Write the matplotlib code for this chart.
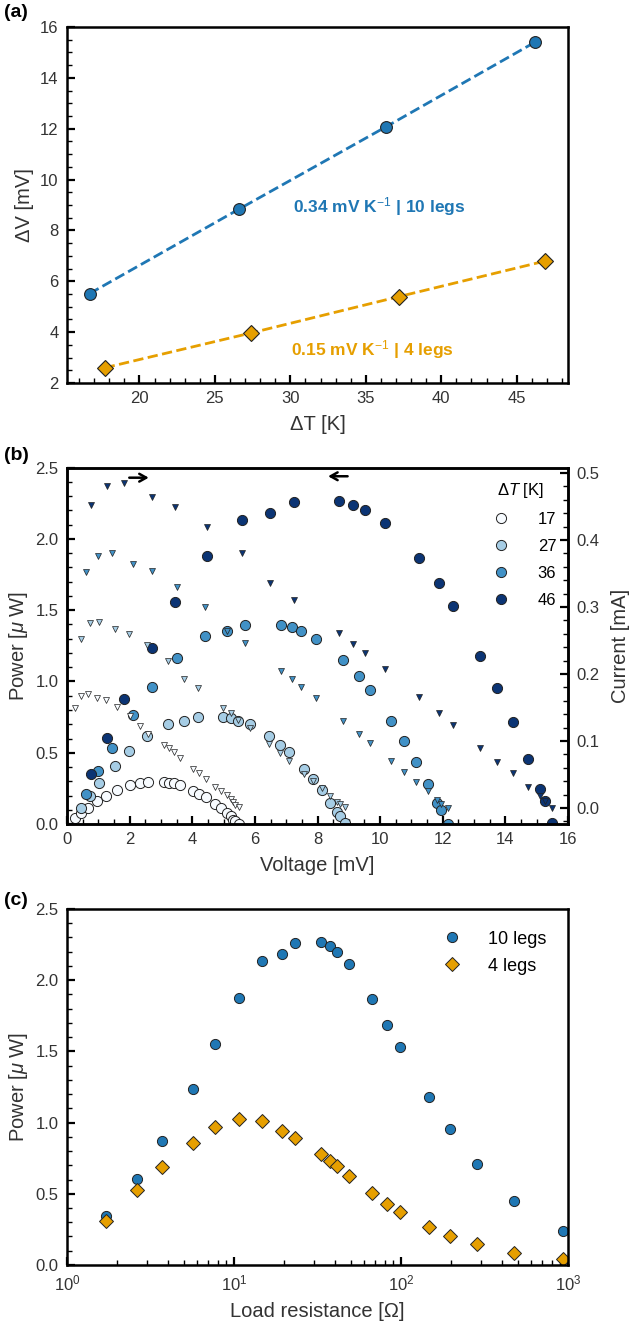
import matplotlib
matplotlib.use('Agg')
import matplotlib.pyplot as plt
from matplotlib.ticker import MultipleLocator

plt.rcParams['font.family'] = ['Liberation Sans', 'DejaVu Sans']
plt.rcParams['mathtext.fontset'] = 'custom'
plt.rcParams['mathtext.rm'] = 'Liberation Sans'
plt.rcParams['mathtext.it'] = 'Liberation Sans:italic'
plt.rcParams['mathtext.bf'] = 'Liberation Sans:bold'

# ---- panel (a): open-circuit voltage vs temperature difference
dT_10 = [16.7, 26.6, 36.35, 46.2]
dV_10 = [5.52, 8.84, 12.08, 15.4]
dT_4 = [17.7, 27.4, 37.2, 46.9]
dV_4 = [2.6, 3.97, 5.4, 6.8]

# ---- panel (b): power (circles, left) and current (triangles, right) vs voltage
V17 = [0.26, 0.45, 0.66, 0.95, 1.24, 1.61, 2.01, 2.33, 2.60, 3.10, 3.26, 3.43,
       3.61, 4.04, 4.23, 4.44, 4.73, 4.92, 5.10, 5.23, 5.31, 5.37, 5.50]
P17 = [0.040, 0.075, 0.112, 0.163, 0.194, 0.241, 0.276, 0.287, 0.294, 0.292, 0.287, 0.287,
       0.276, 0.234, 0.210, 0.187, 0.140, 0.112, 0.077, 0.053, 0.030, 0.018, 0.003]
I17 = [0.150, 0.168, 0.171, 0.165, 0.162, 0.151, 0.138, 0.122, 0.111, 0.094, 0.089, 0.083,
       0.074, 0.059, 0.052, 0.044, 0.032, 0.026, 0.020, 0.014, 0.009, 0.005, 0.001]

V27 = [0.44, 0.73, 1.03, 1.53, 1.98, 2.57, 3.22, 3.74, 4.18, 4.99, 5.23, 5.47,
       5.85, 6.45, 6.80, 7.08, 7.58, 7.87, 8.15, 8.40, 8.62, 8.72, 8.88]
P27 = [0.112, 0.200, 0.290, 0.409, 0.514, 0.621, 0.705, 0.722, 0.750, 0.750, 0.743, 0.724,
       0.703, 0.619, 0.556, 0.505, 0.386, 0.316, 0.241, 0.149, 0.081, 0.053, 0.007]
I27 = [0.253, 0.276, 0.278, 0.267, 0.260, 0.243, 0.219, 0.193, 0.179, 0.150, 0.142, 0.132,
       0.120, 0.096, 0.082, 0.071, 0.051, 0.040, 0.030, 0.018, 0.009, 0.006, 0.001]

V36 = [0.60, 0.98, 1.43, 2.10, 2.71, 3.52, 4.42, 5.10, 5.69, 6.83, 7.18, 7.48,
       7.95, 8.81, 9.31, 9.67, 10.36, 10.77, 11.15, 11.54, 11.81, 11.93, 12.16]
P36 = [0.212, 0.369, 0.535, 0.766, 0.961, 1.164, 1.320, 1.351, 1.393, 1.398, 1.379, 1.356,
       1.300, 1.150, 1.040, 0.942, 0.724, 0.586, 0.437, 0.280, 0.151, 0.100, 0.002]
I36 = [0.353, 0.376, 0.380, 0.364, 0.354, 0.330, 0.300, 0.265, 0.246, 0.205, 0.192, 0.181,
       0.164, 0.130, 0.111, 0.097, 0.070, 0.054, 0.039, 0.025, 0.012, 0.006, 0.000]

V46 = [0.77, 1.27, 1.81, 2.71, 3.44, 4.47, 5.60, 6.49, 7.24, 8.69, 9.12, 9.53,
       10.15, 11.24, 11.88, 12.33, 13.20, 13.74, 14.23, 14.72, 15.09, 15.25, 15.50]
P46 = [0.351, 0.607, 0.877, 1.238, 1.557, 1.881, 2.134, 2.185, 2.258, 2.267, 2.235, 2.202,
       2.113, 1.868, 1.690, 1.531, 1.180, 0.954, 0.713, 0.456, 0.245, 0.163, 0.007]
I46 = [0.452, 0.481, 0.485, 0.464, 0.450, 0.419, 0.381, 0.336, 0.311, 0.261, 0.245, 0.232,
       0.208, 0.166, 0.142, 0.124, 0.089, 0.069, 0.052, 0.032, 0.018, 0.011, 0.000]

# ---- panel (c): power vs load resistance
R_load = [1.72, 2.62, 3.72, 5.72, 7.68, 10.67, 14.7, 19.3, 23.3, 33.3, 37.4, 41.1,
          48.6, 67.5, 83.0, 99.1, 148, 197, 286, 474, 936]
P_10legs = [0.346, 0.602, 0.871, 1.236, 1.552, 1.877, 2.135, 2.184, 2.259, 2.266, 2.238, 2.200,
            2.111, 1.866, 1.686, 1.529, 1.180, 0.953, 0.709, 0.451, 0.239]
P_4legs = [0.309, 0.524, 0.690, 0.857, 0.969, 1.023, 1.014, 0.941, 0.894, 0.777, 0.730, 0.693,
           0.627, 0.503, 0.428, 0.375, 0.269, 0.206, 0.147, 0.087, 0.044]

blue = '#1f77b4'
orange = '#e69f00'
txt = '#333333'
dT_colors = ['#f7fbff', '#a6cde5', '#4191c6', '#0b3474']


def style_axes(ax):
    for s in ax.spines.values():
        s.set_linewidth(1.8)
    ax.tick_params(which='major', direction='in', length=6, width=1.6,
                   labelsize=12, labelcolor=txt, pad=6)
    ax.tick_params(which='minor', direction='in', length=3.5, width=1.0)


fig = plt.figure(figsize=(6.35, 13.31), dpi=100)

# (a)
ax = fig.add_axes([0.1055, 0.7122, 0.789, 0.2675])
ax.plot(dT_10, dV_10, '--', color=blue, lw=2, zorder=1)
ax.plot(dT_10, dV_10, 'o', color=blue, mec='#222222', mew=0.8, ms=8.5, ls='none', zorder=2)
ax.plot(dT_4, dV_4, '--', color=orange, lw=2, zorder=1)
ax.plot(dT_4, dV_4, 'D', color=orange, mec='#222222', mew=0.8, ms=8.5, ls='none', zorder=2)
ax.text(35.9, 8.93, '0.34 mV K$^{-1}$ | 10 legs', color=blue, fontweight='bold',
        fontsize=12.5, ha='center', va='center')
ax.text(35.4, 3.33, '0.15 mV K$^{-1}$ | 4 legs', color=orange, fontweight='bold',
        fontsize=12.5, ha='center', va='center')
ax.set_xlim(15.2, 48.4)
ax.set_ylim(2, 16)
ax.xaxis.set_major_locator(MultipleLocator(5))
ax.xaxis.set_minor_locator(MultipleLocator(1))
ax.yaxis.set_major_locator(MultipleLocator(2))
ax.yaxis.set_minor_locator(MultipleLocator(0.5))
style_axes(ax)
ax.set_xlabel('ΔT [K]', fontsize=14.5, color=txt, labelpad=6)
ax.set_ylabel('ΔV [mV]', fontsize=14.5, color=txt)
fig.text(0.006, 0.9905, '(a)', fontsize=14, fontweight='bold', va='center')

# (b)
ax = fig.add_axes([0.1055, 0.3809, 0.789, 0.2677])
ax2 = ax.twinx()
sets = [(V17, P17, I17, '17'), (V27, P27, I27, '27'), (V36, P36, I36, '36'), (V46, P46, I46, '46')]
for (v, p, i, lab), c in zip(sets, dT_colors):
    ax.plot(v, p, 'o', color=c, mec='#222222', mew=0.7, ms=7.3, ls='none', label=lab)
    ax2.plot(v, i, 'v', color=c, mec='#222222', mew=0.5, ms=5.0, ls='none')
ax.set_xlim(0, 16)
ax.set_ylim(0, 2.5)
ax2.set_ylim(-0.0238, 0.508)
ax.xaxis.set_major_locator(MultipleLocator(2))
ax.xaxis.set_minor_locator(MultipleLocator(0.5))
ax.yaxis.set_major_locator(MultipleLocator(0.5))
ax.yaxis.set_minor_locator(MultipleLocator(0.1))
ax2.yaxis.set_major_locator(MultipleLocator(0.1))
ax2.yaxis.set_minor_locator(MultipleLocator(0.02))
style_axes(ax)
style_axes(ax2)
ax.tick_params(axis='y', which='both', right=False)
ax.set_xlabel('Voltage [mV]', fontsize=14.5, color=txt, labelpad=6)
ax.set_ylabel('Power [$\\mu$ W]', fontsize=14.5, color=txt)
ax2.set_ylabel('Current [mA]', fontsize=14.5, color=txt, labelpad=8)
arrow = dict(arrowstyle='->,head_length=0.5,head_width=0.28', lw=1.8, color='black')
ax.annotate('', xy=(2.7, 2.43), xytext=(1.9, 2.43), arrowprops=arrow)
ax.annotate('', xy=(8.25, 2.44), xytext=(9.05, 2.44), arrowprops=arrow)
leg = ax.legend(title='$\\Delta T$ [K]', loc='upper right', frameon=False, fontsize=12,
                title_fontsize=12, handletextpad=1.2, borderaxespad=0.3,
                labelspacing=0.72, bbox_to_anchor=(1.0, 0.995))
fig.text(0.006, 0.658, '(b)', fontsize=14, fontweight='bold', va='center')

# (c)
ax = fig.add_axes([0.1055, 0.0496, 0.789, 0.2675])
ax.plot(R_load, P_10legs, 'o', color=blue, mec='#222222', mew=0.7, ms=7.3, ls='none',
        label='10 legs')
ax.plot(R_load, P_4legs, 'D', color=orange, mec='#222222', mew=0.7, ms=7.3, ls='none',
        label='4 legs')
ax.set_xscale('log')
ax.set_xlim(1, 1000)
ax.set_ylim(0, 2.5)
ax.yaxis.set_major_locator(MultipleLocator(0.5))
ax.yaxis.set_minor_locator(MultipleLocator(0.1))
style_axes(ax)
ax.set_xlabel('Load resistance [Ω]', fontsize=14.5, color=txt, labelpad=6)
ax.set_ylabel('Power [$\\mu$ W]', fontsize=14.5, color=txt)
ax.legend(loc='upper right', frameon=False, fontsize=13, handletextpad=1.0,
          borderaxespad=0.8, labelspacing=0.55)
fig.text(0.006, 0.3235, '(c)', fontsize=14, fontweight='bold', va='center')

fig.savefig('out.png', dpi=100)
